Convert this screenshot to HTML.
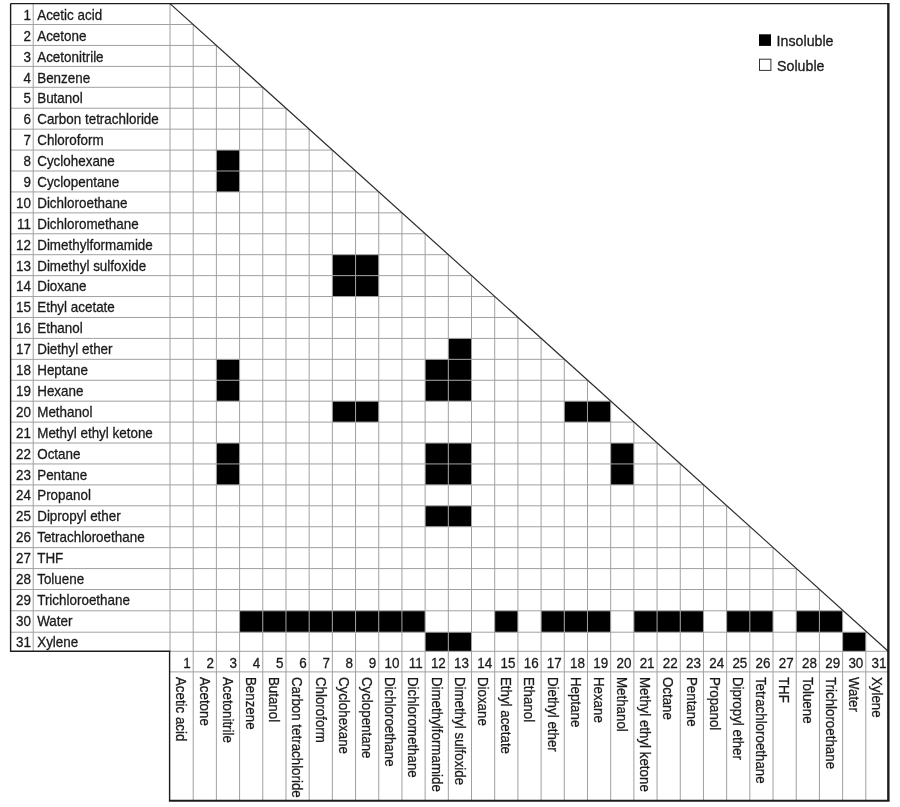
<!DOCTYPE html>
<html lang="en">
<head>
<meta charset="utf-8">
<title>Solvent miscibility chart</title>
<style>
html,body{margin:0;padding:0;background:#fff;}
body{width:900px;height:807px;overflow:hidden;}
svg{display:block;}
text{font-family:"Liberation Sans",Arial,Helvetica,sans-serif;fill:#1a1a1a;stroke:#1a1a1a;stroke-width:0.3px;}
</style>
</head>
<body>
<svg width="900" height="807" viewBox="0 0 900 807">
<rect x="0" y="0" width="900" height="807" fill="#ffffff"/>
<g fill="#000000">
<rect x="216.39" y="150.07" width="23.19" height="20.93"/>
<rect x="216.39" y="171" width="23.19" height="20.93"/>
<rect x="332.35" y="254.7" width="23.19" height="20.93"/>
<rect x="355.55" y="254.7" width="23.19" height="20.93"/>
<rect x="332.35" y="275.63" width="23.19" height="20.92"/>
<rect x="355.55" y="275.63" width="23.19" height="20.92"/>
<rect x="448.32" y="338.4" width="23.19" height="20.93"/>
<rect x="216.39" y="359.33" width="23.19" height="20.93"/>
<rect x="425.13" y="359.33" width="23.19" height="20.93"/>
<rect x="448.32" y="359.33" width="23.19" height="20.93"/>
<rect x="216.39" y="380.25" width="23.19" height="20.92"/>
<rect x="425.13" y="380.25" width="23.19" height="20.92"/>
<rect x="448.32" y="380.25" width="23.19" height="20.92"/>
<rect x="332.35" y="401.18" width="23.19" height="20.93"/>
<rect x="355.55" y="401.18" width="23.19" height="20.93"/>
<rect x="564.29" y="401.18" width="23.19" height="20.93"/>
<rect x="587.48" y="401.18" width="23.19" height="20.93"/>
<rect x="216.39" y="443.03" width="23.19" height="20.93"/>
<rect x="425.13" y="443.03" width="23.19" height="20.93"/>
<rect x="448.32" y="443.03" width="23.19" height="20.93"/>
<rect x="610.68" y="443.03" width="23.19" height="20.93"/>
<rect x="216.39" y="463.95" width="23.19" height="20.93"/>
<rect x="425.13" y="463.95" width="23.19" height="20.93"/>
<rect x="448.32" y="463.95" width="23.19" height="20.93"/>
<rect x="610.68" y="463.95" width="23.19" height="20.93"/>
<rect x="425.13" y="505.8" width="23.19" height="20.92"/>
<rect x="448.32" y="505.8" width="23.19" height="20.92"/>
<rect x="239.58" y="610.8" width="23.19" height="21.4"/>
<rect x="262.77" y="610.8" width="23.19" height="21.4"/>
<rect x="285.97" y="610.8" width="23.19" height="21.4"/>
<rect x="309.16" y="610.8" width="23.19" height="21.4"/>
<rect x="332.35" y="610.8" width="23.19" height="21.4"/>
<rect x="355.55" y="610.8" width="23.19" height="21.4"/>
<rect x="378.74" y="610.8" width="23.19" height="21.4"/>
<rect x="401.94" y="610.8" width="23.19" height="21.4"/>
<rect x="494.71" y="610.8" width="23.19" height="21.4"/>
<rect x="541.1" y="610.8" width="23.19" height="21.4"/>
<rect x="564.29" y="610.8" width="23.19" height="21.4"/>
<rect x="587.48" y="610.8" width="23.19" height="21.4"/>
<rect x="633.87" y="610.8" width="23.19" height="21.4"/>
<rect x="657.06" y="610.8" width="23.19" height="21.4"/>
<rect x="680.26" y="610.8" width="23.19" height="21.4"/>
<rect x="726.65" y="610.8" width="23.19" height="21.4"/>
<rect x="749.84" y="610.8" width="23.19" height="21.4"/>
<rect x="796.23" y="610.8" width="23.19" height="21.4"/>
<rect x="819.42" y="610.8" width="23.19" height="21.4"/>
<rect x="425.13" y="632.2" width="23.19" height="19.1"/>
<rect x="448.32" y="632.2" width="23.19" height="19.1"/>
<rect x="842.61" y="632.2" width="23.19" height="19.1"/>
</g>
<g stroke="#a0a0a0" stroke-width="1" fill="none">
<line x1="10.6" y1="24.53" x2="193.2" y2="24.53"/>
<line x1="10.6" y1="45.45" x2="216.41" y2="45.45"/>
<line x1="10.6" y1="66.38" x2="239.61" y2="66.38"/>
<line x1="10.6" y1="87.3" x2="262.81" y2="87.3"/>
<line x1="10.6" y1="108.22" x2="286.01" y2="108.22"/>
<line x1="10.6" y1="129.15" x2="309.22" y2="129.15"/>
<line x1="10.6" y1="150.07" x2="332.42" y2="150.07"/>
<line x1="10.6" y1="171" x2="355.62" y2="171"/>
<line x1="10.6" y1="191.93" x2="378.82" y2="191.93"/>
<line x1="10.6" y1="212.85" x2="402.03" y2="212.85"/>
<line x1="10.6" y1="233.78" x2="425.23" y2="233.78"/>
<line x1="10.6" y1="254.7" x2="448.43" y2="254.7"/>
<line x1="10.6" y1="275.63" x2="471.63" y2="275.63"/>
<line x1="10.6" y1="296.55" x2="494.84" y2="296.55"/>
<line x1="10.6" y1="317.48" x2="518.04" y2="317.48"/>
<line x1="10.6" y1="338.4" x2="541.24" y2="338.4"/>
<line x1="10.6" y1="359.33" x2="564.44" y2="359.33"/>
<line x1="10.6" y1="380.25" x2="587.65" y2="380.25"/>
<line x1="10.6" y1="401.18" x2="610.85" y2="401.18"/>
<line x1="10.6" y1="422.1" x2="634.05" y2="422.1"/>
<line x1="10.6" y1="443.03" x2="657.25" y2="443.03"/>
<line x1="10.6" y1="463.95" x2="680.46" y2="463.95"/>
<line x1="10.6" y1="484.88" x2="703.66" y2="484.88"/>
<line x1="10.6" y1="505.8" x2="726.86" y2="505.8"/>
<line x1="10.6" y1="526.73" x2="750.07" y2="526.73"/>
<line x1="10.6" y1="547.65" x2="773.27" y2="547.65"/>
<line x1="10.6" y1="568.58" x2="796.47" y2="568.58"/>
<line x1="10.6" y1="589.5" x2="819.67" y2="589.5"/>
<line x1="10.6" y1="610.8" x2="843.21" y2="610.8"/>
<line x1="10.6" y1="632.2" x2="866.41" y2="632.2"/>
<line x1="170" y1="651.3" x2="889" y2="651.3"/>
<line x1="170" y1="671.9" x2="889" y2="671.9"/>
<line x1="33.2" y1="3.6" x2="33.2" y2="651.3"/>
<line x1="170" y1="3.6" x2="170" y2="651.3"/>
<line x1="193.19" y1="24.52" x2="193.19" y2="800.7"/>
<line x1="216.39" y1="45.43" x2="216.39" y2="800.7"/>
<line x1="239.58" y1="66.35" x2="239.58" y2="800.7"/>
<line x1="262.77" y1="87.27" x2="262.77" y2="800.7"/>
<line x1="285.97" y1="108.18" x2="285.97" y2="800.7"/>
<line x1="309.16" y1="129.1" x2="309.16" y2="800.7"/>
<line x1="332.35" y1="150.02" x2="332.35" y2="800.7"/>
<line x1="355.55" y1="170.93" x2="355.55" y2="800.7"/>
<line x1="378.74" y1="191.85" x2="378.74" y2="800.7"/>
<line x1="401.94" y1="212.77" x2="401.94" y2="800.7"/>
<line x1="425.13" y1="233.69" x2="425.13" y2="800.7"/>
<line x1="448.32" y1="254.6" x2="448.32" y2="800.7"/>
<line x1="471.52" y1="275.52" x2="471.52" y2="800.7"/>
<line x1="494.71" y1="296.44" x2="494.71" y2="800.7"/>
<line x1="517.9" y1="317.35" x2="517.9" y2="800.7"/>
<line x1="541.1" y1="338.27" x2="541.1" y2="800.7"/>
<line x1="564.29" y1="359.19" x2="564.29" y2="800.7"/>
<line x1="587.48" y1="380.1" x2="587.48" y2="800.7"/>
<line x1="610.68" y1="401.02" x2="610.68" y2="800.7"/>
<line x1="633.87" y1="421.94" x2="633.87" y2="800.7"/>
<line x1="657.06" y1="442.85" x2="657.06" y2="800.7"/>
<line x1="680.26" y1="463.77" x2="680.26" y2="800.7"/>
<line x1="703.45" y1="484.69" x2="703.45" y2="800.7"/>
<line x1="726.65" y1="505.6" x2="726.65" y2="800.7"/>
<line x1="749.84" y1="526.52" x2="749.84" y2="800.7"/>
<line x1="773.03" y1="547.44" x2="773.03" y2="800.7"/>
<line x1="796.23" y1="568.35" x2="796.23" y2="800.7"/>
<line x1="819.42" y1="589.27" x2="819.42" y2="800.7"/>
<line x1="842.61" y1="610.19" x2="842.61" y2="800.7"/>
<line x1="865.81" y1="631.1" x2="865.81" y2="800.7"/>
</g>
<line x1="170" y1="3.6" x2="888.2" y2="651.3" stroke="#2c2c2c" stroke-width="1.2"/>
<path d="M10.6 3.6 H889" stroke="#1c1c1c" stroke-width="1.4" fill="none"/>
<path d="M10.6 3.6 V651.3 H169.6 V800.7" stroke="#1c1c1c" stroke-width="1.4" fill="none"/>
<path d="M168.9 800.7 H889.5" stroke="#1c1c1c" stroke-width="2.1" fill="none"/>
<path d="M888.35 800.7 V2.9" stroke="#1c1c1c" stroke-width="2.4" fill="none"/>
<g font-size="14.6">
<text transform="translate(31 19.85) scale(0.92 1)" text-anchor="end">1</text>
<text transform="translate(37.2 19.85) scale(0.92 1)">Acetic acid</text>
<text transform="translate(31 40.75) scale(0.92 1)" text-anchor="end">2</text>
<text transform="translate(37.2 40.75) scale(0.92 1)">Acetone</text>
<text transform="translate(31 61.64) scale(0.92 1)" text-anchor="end">3</text>
<text transform="translate(37.2 61.64) scale(0.92 1)">Acetonitrile</text>
<text transform="translate(31 82.53) scale(0.92 1)" text-anchor="end">4</text>
<text transform="translate(37.2 82.53) scale(0.92 1)">Benzene</text>
<text transform="translate(31 103.43) scale(0.92 1)" text-anchor="end">5</text>
<text transform="translate(37.2 103.43) scale(0.92 1)">Butanol</text>
<text transform="translate(31 124.32) scale(0.92 1)" text-anchor="end">6</text>
<text transform="translate(37.2 124.32) scale(0.92 1)">Carbon tetrachloride</text>
<text transform="translate(31 145.22) scale(0.92 1)" text-anchor="end">7</text>
<text transform="translate(37.2 145.22) scale(0.92 1)">Chloroform</text>
<text transform="translate(31 166.11) scale(0.92 1)" text-anchor="end">8</text>
<text transform="translate(37.2 166.11) scale(0.92 1)">Cyclohexane</text>
<text transform="translate(31 187.01) scale(0.92 1)" text-anchor="end">9</text>
<text transform="translate(37.2 187.01) scale(0.92 1)">Cyclopentane</text>
<text transform="translate(31 207.91) scale(0.92 1)" text-anchor="end">10</text>
<text transform="translate(37.2 207.91) scale(0.92 1)">Dichloroethane</text>
<text transform="translate(31 228.8) scale(0.92 1)" text-anchor="end">11</text>
<text transform="translate(37.2 228.8) scale(0.92 1)">Dichloromethane</text>
<text transform="translate(31 249.69) scale(0.92 1)" text-anchor="end">12</text>
<text transform="translate(37.2 249.69) scale(0.92 1)">Dimethylformamide</text>
<text transform="translate(31 270.59) scale(0.92 1)" text-anchor="end">13</text>
<text transform="translate(37.2 270.59) scale(0.92 1)">Dimethyl sulfoxide</text>
<text transform="translate(31 291.49) scale(0.92 1)" text-anchor="end">14</text>
<text transform="translate(37.2 291.49) scale(0.92 1)">Dioxane</text>
<text transform="translate(31 312.38) scale(0.92 1)" text-anchor="end">15</text>
<text transform="translate(37.2 312.38) scale(0.92 1)">Ethyl acetate</text>
<text transform="translate(31 333.28) scale(0.92 1)" text-anchor="end">16</text>
<text transform="translate(37.2 333.28) scale(0.92 1)">Ethanol</text>
<text transform="translate(31 354.17) scale(0.92 1)" text-anchor="end">17</text>
<text transform="translate(37.2 354.17) scale(0.92 1)">Diethyl ether</text>
<text transform="translate(31 375.06) scale(0.92 1)" text-anchor="end">18</text>
<text transform="translate(37.2 375.06) scale(0.92 1)">Heptane</text>
<text transform="translate(31 395.96) scale(0.92 1)" text-anchor="end">19</text>
<text transform="translate(37.2 395.96) scale(0.92 1)">Hexane</text>
<text transform="translate(31 416.86) scale(0.92 1)" text-anchor="end">20</text>
<text transform="translate(37.2 416.86) scale(0.92 1)">Methanol</text>
<text transform="translate(31 437.75) scale(0.92 1)" text-anchor="end">21</text>
<text transform="translate(37.2 437.75) scale(0.92 1)">Methyl ethyl ketone</text>
<text transform="translate(31 458.65) scale(0.92 1)" text-anchor="end">22</text>
<text transform="translate(37.2 458.65) scale(0.92 1)">Octane</text>
<text transform="translate(31 479.54) scale(0.92 1)" text-anchor="end">23</text>
<text transform="translate(37.2 479.54) scale(0.92 1)">Pentane</text>
<text transform="translate(31 500.44) scale(0.92 1)" text-anchor="end">24</text>
<text transform="translate(37.2 500.44) scale(0.92 1)">Propanol</text>
<text transform="translate(31 521.33) scale(0.92 1)" text-anchor="end">25</text>
<text transform="translate(37.2 521.33) scale(0.92 1)">Dipropyl ether</text>
<text transform="translate(31 542.23) scale(0.92 1)" text-anchor="end">26</text>
<text transform="translate(37.2 542.23) scale(0.92 1)">Tetrachloroethane</text>
<text transform="translate(31 563.12) scale(0.92 1)" text-anchor="end">27</text>
<text transform="translate(37.2 563.12) scale(0.92 1)">THF</text>
<text transform="translate(31 584.01) scale(0.92 1)" text-anchor="end">28</text>
<text transform="translate(37.2 584.01) scale(0.92 1)">Toluene</text>
<text transform="translate(31 604.91) scale(0.92 1)" text-anchor="end">29</text>
<text transform="translate(37.2 604.91) scale(0.92 1)">Trichloroethane</text>
<text transform="translate(31 625.81) scale(0.92 1)" text-anchor="end">30</text>
<text transform="translate(37.2 625.81) scale(0.92 1)">Water</text>
<text transform="translate(31 646.7) scale(0.92 1)" text-anchor="end">31</text>
<text transform="translate(37.2 646.7) scale(0.92 1)">Xylene</text>
<text transform="translate(190.69 667.5) scale(0.92 1)" text-anchor="end">1</text>
<text transform="translate(213.89 667.5) scale(0.92 1)" text-anchor="end">2</text>
<text transform="translate(237.08 667.5) scale(0.92 1)" text-anchor="end">3</text>
<text transform="translate(260.27 667.5) scale(0.92 1)" text-anchor="end">4</text>
<text transform="translate(283.47 667.5) scale(0.92 1)" text-anchor="end">5</text>
<text transform="translate(306.66 667.5) scale(0.92 1)" text-anchor="end">6</text>
<text transform="translate(329.85 667.5) scale(0.92 1)" text-anchor="end">7</text>
<text transform="translate(353.05 667.5) scale(0.92 1)" text-anchor="end">8</text>
<text transform="translate(376.24 667.5) scale(0.92 1)" text-anchor="end">9</text>
<text transform="translate(399.44 667.5) scale(0.92 1)" text-anchor="end">10</text>
<text transform="translate(422.63 667.5) scale(0.92 1)" text-anchor="end">11</text>
<text transform="translate(445.82 667.5) scale(0.92 1)" text-anchor="end">12</text>
<text transform="translate(469.02 667.5) scale(0.92 1)" text-anchor="end">13</text>
<text transform="translate(492.21 667.5) scale(0.92 1)" text-anchor="end">14</text>
<text transform="translate(515.4 667.5) scale(0.92 1)" text-anchor="end">15</text>
<text transform="translate(538.6 667.5) scale(0.92 1)" text-anchor="end">16</text>
<text transform="translate(561.79 667.5) scale(0.92 1)" text-anchor="end">17</text>
<text transform="translate(584.98 667.5) scale(0.92 1)" text-anchor="end">18</text>
<text transform="translate(608.18 667.5) scale(0.92 1)" text-anchor="end">19</text>
<text transform="translate(631.37 667.5) scale(0.92 1)" text-anchor="end">20</text>
<text transform="translate(654.56 667.5) scale(0.92 1)" text-anchor="end">21</text>
<text transform="translate(677.76 667.5) scale(0.92 1)" text-anchor="end">22</text>
<text transform="translate(700.95 667.5) scale(0.92 1)" text-anchor="end">23</text>
<text transform="translate(724.15 667.5) scale(0.92 1)" text-anchor="end">24</text>
<text transform="translate(747.34 667.5) scale(0.92 1)" text-anchor="end">25</text>
<text transform="translate(770.53 667.5) scale(0.92 1)" text-anchor="end">26</text>
<text transform="translate(793.73 667.5) scale(0.92 1)" text-anchor="end">27</text>
<text transform="translate(816.92 667.5) scale(0.92 1)" text-anchor="end">28</text>
<text transform="translate(840.11 667.5) scale(0.92 1)" text-anchor="end">29</text>
<text transform="translate(863.31 667.5) scale(0.92 1)" text-anchor="end">30</text>
<text transform="translate(886.5 667.5) scale(0.92 1)" text-anchor="end">31</text>
</g>
<g font-size="15">
<text transform="translate(176.4 676.9) rotate(90) scale(0.89 1)">Acetic acid</text>
<text transform="translate(199.59 676.9) rotate(90) scale(0.89 1)">Acetone</text>
<text transform="translate(222.79 676.9) rotate(90) scale(0.89 1)">Acetonitrile</text>
<text transform="translate(245.98 676.9) rotate(90) scale(0.89 1)">Benzene</text>
<text transform="translate(269.17 676.9) rotate(90) scale(0.89 1)">Butanol</text>
<text transform="translate(292.37 676.9) rotate(90) scale(0.89 1)">Carbon tetrachloride</text>
<text transform="translate(315.56 676.9) rotate(90) scale(0.89 1)">Chloroform</text>
<text transform="translate(338.75 676.9) rotate(90) scale(0.89 1)">Cyclohexane</text>
<text transform="translate(361.95 676.9) rotate(90) scale(0.89 1)">Cyclopentane</text>
<text transform="translate(385.14 676.9) rotate(90) scale(0.89 1)">Dichloroethane</text>
<text transform="translate(408.34 676.9) rotate(90) scale(0.89 1)">Dichloromethane</text>
<text transform="translate(431.53 676.9) rotate(90) scale(0.89 1)">Dimethylformamide</text>
<text transform="translate(454.72 676.9) rotate(90) scale(0.89 1)">Dimethyl sulfoxide</text>
<text transform="translate(477.92 676.9) rotate(90) scale(0.89 1)">Dioxane</text>
<text transform="translate(501.11 676.9) rotate(90) scale(0.89 1)">Ethyl acetate</text>
<text transform="translate(524.3 676.9) rotate(90) scale(0.89 1)">Ethanol</text>
<text transform="translate(547.5 676.9) rotate(90) scale(0.89 1)">Diethyl ether</text>
<text transform="translate(570.69 676.9) rotate(90) scale(0.89 1)">Heptane</text>
<text transform="translate(593.88 676.9) rotate(90) scale(0.89 1)">Hexane</text>
<text transform="translate(617.08 676.9) rotate(90) scale(0.89 1)">Methanol</text>
<text transform="translate(640.27 676.9) rotate(90) scale(0.89 1)">Methyl ethyl ketone</text>
<text transform="translate(663.46 676.9) rotate(90) scale(0.89 1)">Octane</text>
<text transform="translate(686.66 676.9) rotate(90) scale(0.89 1)">Pentane</text>
<text transform="translate(709.85 676.9) rotate(90) scale(0.89 1)">Propanol</text>
<text transform="translate(733.05 676.9) rotate(90) scale(0.89 1)">Dipropyl ether</text>
<text transform="translate(756.24 676.9) rotate(90) scale(0.89 1)">Tetrachloroethane</text>
<text transform="translate(779.43 676.9) rotate(90) scale(0.89 1)">THF</text>
<text transform="translate(802.63 676.9) rotate(90) scale(0.89 1)">Toluene</text>
<text transform="translate(825.82 676.9) rotate(90) scale(0.89 1)">Trichloroethane</text>
<text transform="translate(849.01 676.9) rotate(90) scale(0.89 1)">Water</text>
<text transform="translate(872.21 676.9) rotate(90) scale(0.89 1)">Xylene</text>
</g>
<rect x="759" y="34.3" width="12" height="11.6" fill="#000"/>
<rect x="759.5" y="59.2" width="11.4" height="11.2" fill="#fff" stroke="#333" stroke-width="1"/>
<g font-size="14.6">
<text transform="translate(776.6 46) scale(0.975 1)">Insoluble</text>
<text transform="translate(777 70.8) scale(0.975 1)">Soluble</text>
</g>
</svg>
</body>
</html>
